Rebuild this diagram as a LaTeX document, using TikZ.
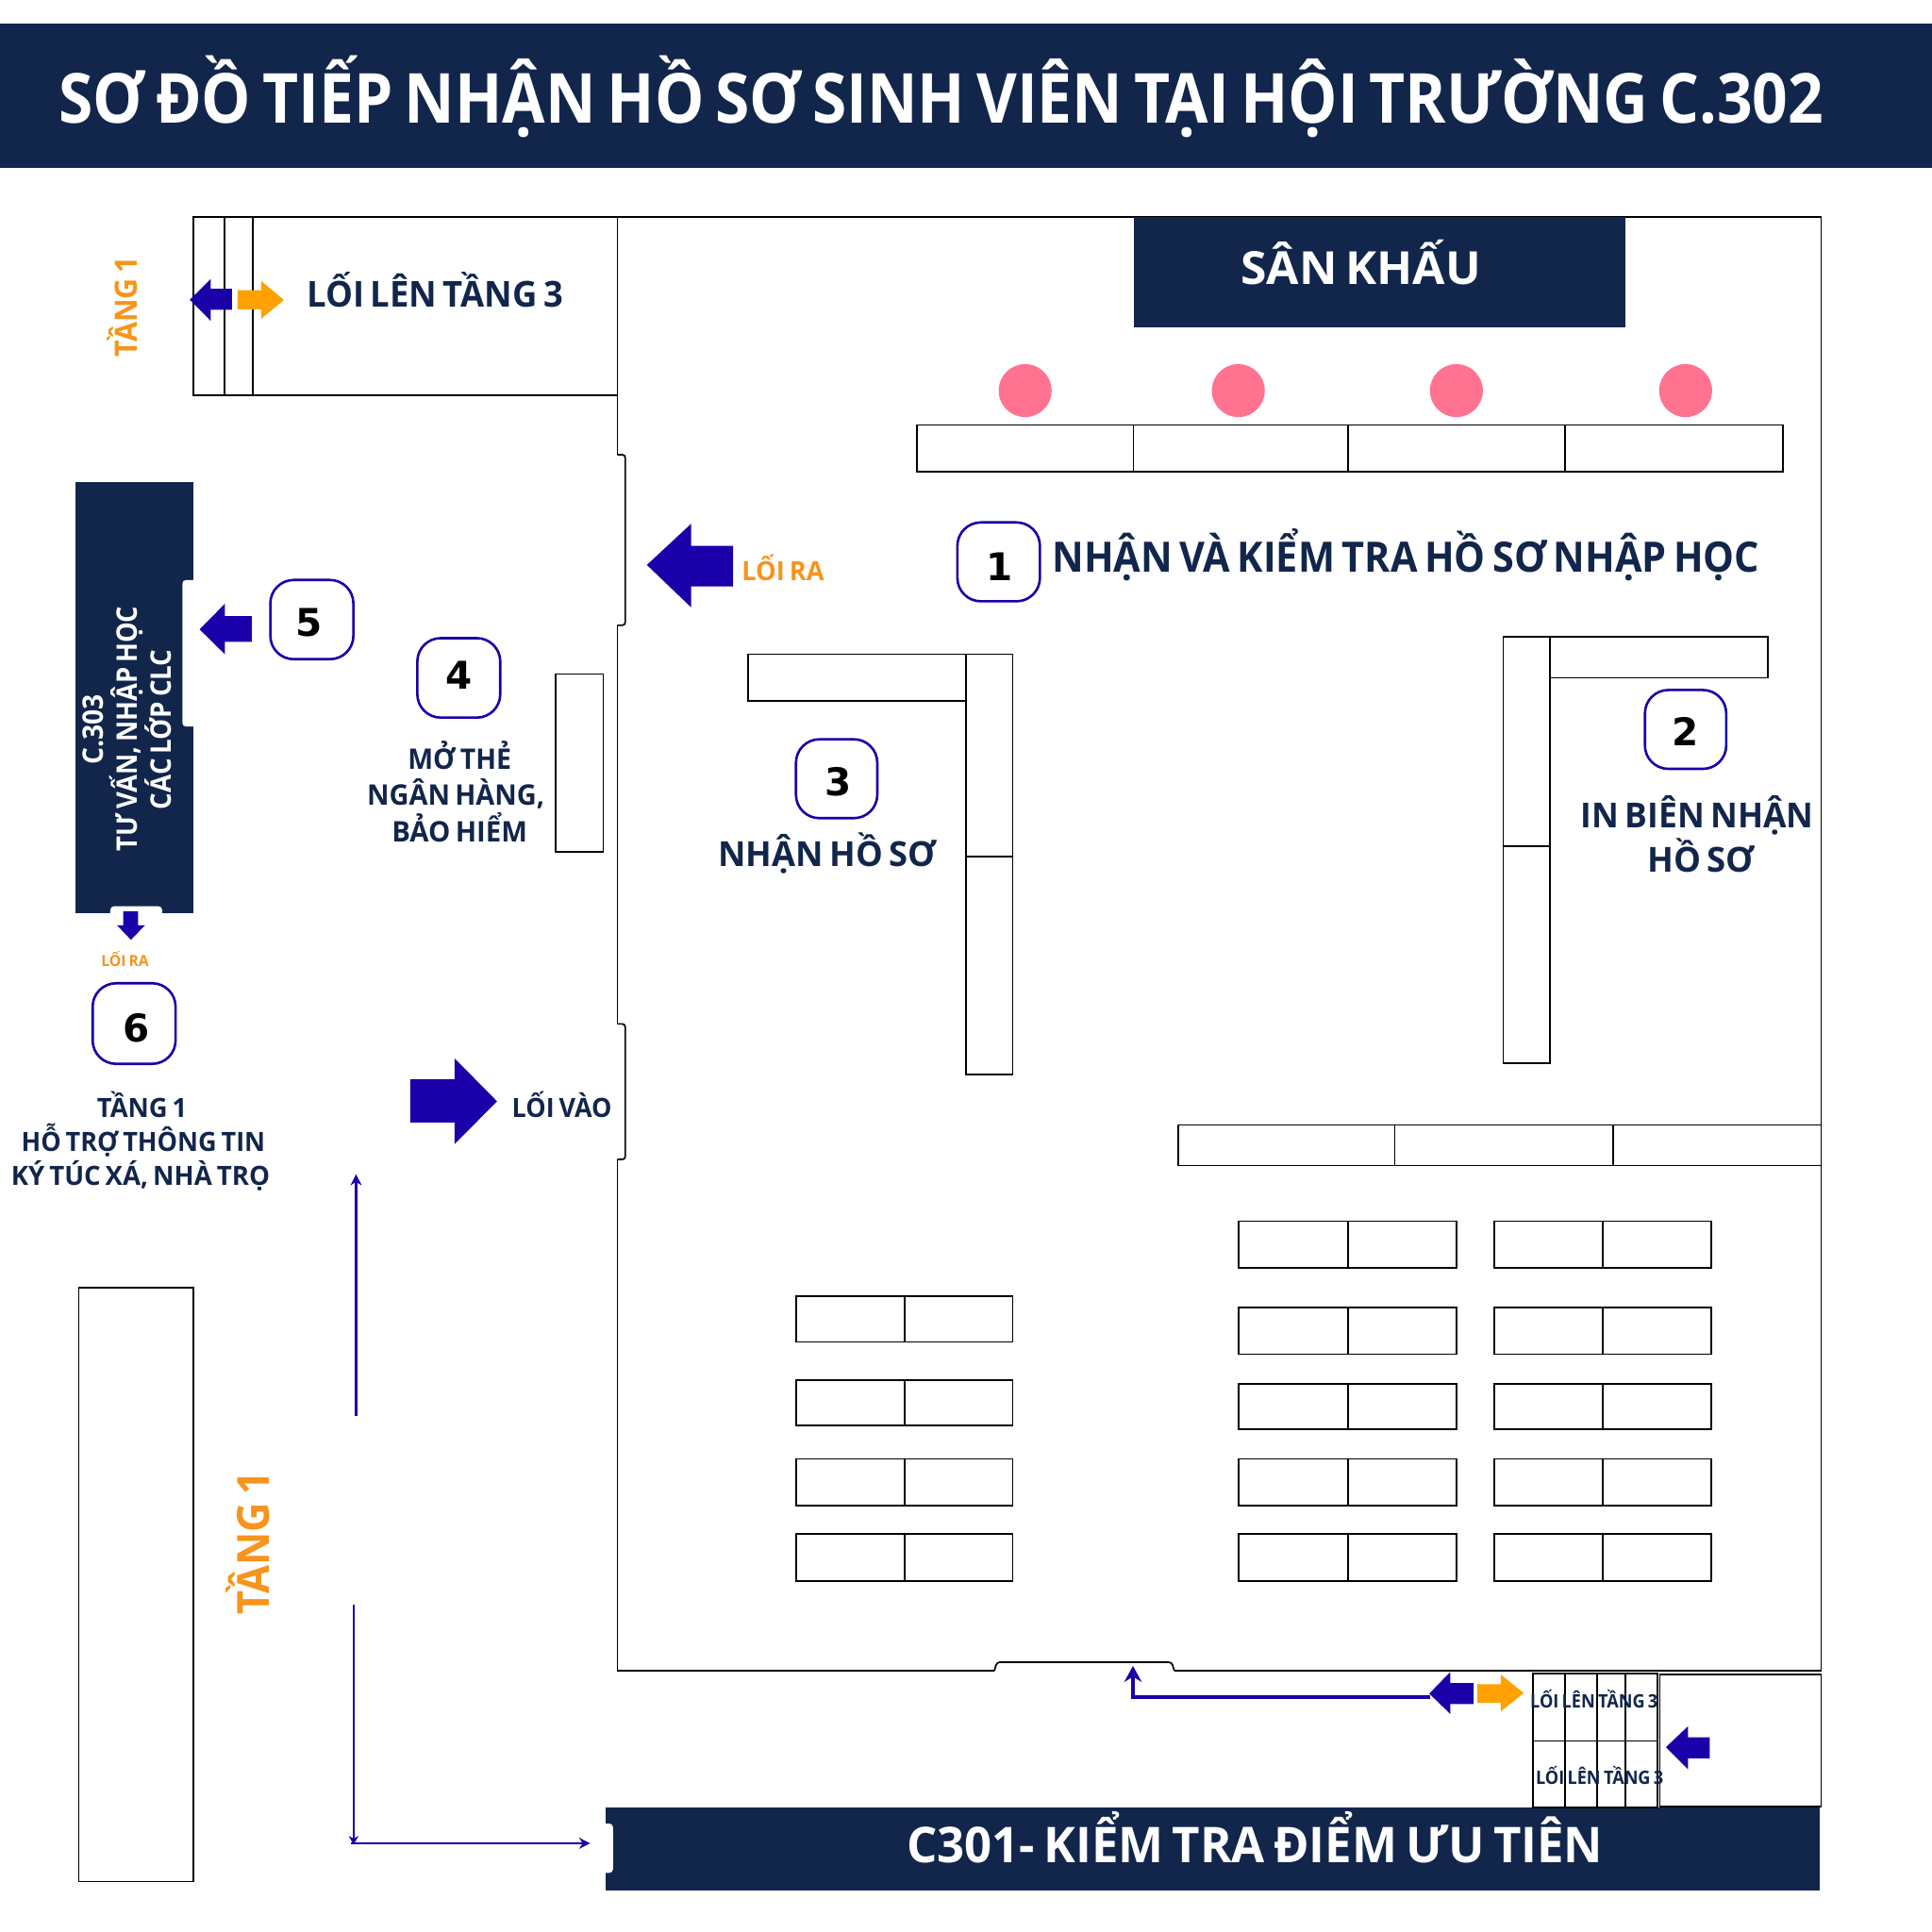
\documentclass[tikz,border=0pt]{standalone}
\usepackage{fontspec}
\usepackage{graphicx}
\setmainfont{Open Sans}[WordSpace=0.7]
\newfontfamily\numfont{DejaVu Sans}
\usetikzlibrary{arrows.meta}
\definecolor{navy}{HTML}{12264C}
\definecolor{flowblue}{HTML}{1A00A8}
\definecolor{amber}{HTML}{FFA100}
\definecolor{labelorange}{HTML}{F7941D}
\definecolor{seat}{HTML}{FF7390}
\newcommand\fw[3]{{\fontsize{#2pt}{#2pt}\selectfont\bfseries\resizebox{#1pt}{\height}{#3}}}
\tikzset{
  wall/.style={draw=black,line width=1.3pt,line join=miter},
  door/.style={draw=black,line width=1.3pt,rounded corners=2.5pt},
  desk/.style={draw=black,line width=1.3pt,fill=white},
  solidnavy/.style={fill=navy},
  bluearrow/.style={fill=flowblue},
  amberarrow/.style={fill=amber},
  badge/.style={draw=flowblue,line width=2pt,rounded corners=19pt,fill=white},
  num/.style={anchor=base,inner sep=0pt,text=black,font=\numfont\bfseries\fontsize{31pt}{31pt}\selectfont},
  txt/.style={anchor=base,inner sep=0pt,text=navy},
  wtxt/.style={anchor=base,inner sep=0pt,text=white},
  otxt/.style={anchor=base,inner sep=0pt,text=labelorange},
  flow/.style={draw=flowblue,line width=1.7pt},
  thick flow/.style={draw=flowblue,line width=3pt},
  notch/.style={fill=white,rounded corners=3pt},
}
\begin{document}
\begin{tikzpicture}[x=1pt,y=-1pt]
\useasboundingbox (0,0) rectangle (1568,1568);
% header
\fill[solidnavy] (0,19) rectangle (1568,136);
\node[wtxt] (title) at (764,100) {\fw{1432}{56}{SƠ ĐỒ TIẾP NHẬN HỒ SƠ SINH VIÊN TẠI HỘI TRƯỜNG C.302}};
% left stair room
\draw[wall] (157,176) rectangle (501,321);
\draw[desk] (157,176) rectangle (182,321);
\draw[desk] (182,176) rectangle (205,321);
\node[txt] (up3) at (353,249) {\fw{208}{29}{LỐI LÊN TẦNG 3}};
\node[otxt,rotate=90] (t1a) at (111.5,249) {\fw{81}{25}{TẦNG 1}};
\fill[bluearrow] (154,243.3) -- (171,226.5) -- (171,234.3) -- (188.3,234.3) -- (188.3,251.5) -- (171,251.5) -- (171,260.4) -- cycle;
\fill[amberarrow] (230.4,243.4) -- (212,228) -- (212,235.5) -- (192.8,235.5) -- (192.8,251) -- (212,251) -- (212,258.7) -- cycle;
% main hall walls
\draw[wall] (501,369) -- (501,176) -- (1478,176) -- (1478,1356) -- (953,1356);
\draw[door] (953,1356) -- (951,1349) -- (809,1349) -- (807,1356);
\draw[wall] (807,1356) -- (501,1356) -- (501,941);
\draw[door] (501,941) -- (507.5,941) -- (507.5,831) -- (501,831);
\draw[wall] (501,831) -- (501,507.5);
\draw[door] (501,507.5) -- (507.5,507.5) -- (507.5,369) -- (501,369);
% stage
\fill[solidnavy] (920,176) rectangle (1319,265.5);
\node[wtxt] (stage) at (1104.5,230.5) {\fw{195}{37}{SÂN KHẤU}};
\foreach \n/\cx in {a/832,b/1005,c/1182,d/1368}{
  \fill[seat] (\cx,317) circle (21.5pt);
}
% desks row 1
\draw[desk] (744,345) rectangle (920,383);
\draw[desk] (920,345) rectangle (1094,383);
\draw[desk] (1094,345) rectangle (1270,383);
\draw[desk] (1270,345) rectangle (1447,383);
% step 1
\draw[badge] (777,424) rectangle (844,488);
\node[num] (n1) at (811,471) {1};
\node[txt] (t1) at (1141,464.5) {\fw{574}{34}{NHẬN VÀ KIỂM TRA HỒ SƠ NHẬP HỌC}};
% exit
\fill[bluearrow] (525,458.5) -- (561,425) -- (561,443) -- (595,443) -- (595,476) -- (561,476) -- (561,493) -- cycle;
\node[otxt] (exit1) at (635.5,471) {\fw{67}{21.5}{LỐI RA}};
% step 3
\draw[desk] (607,531) rectangle (784,569);
\draw[desk] (784,531) rectangle (822,695);
\draw[desk] (784,695) rectangle (822,872);
\draw[badge] (646,600) rectangle (712,664);
\node[num] (n3) at (680,646) {3};
\node[txt] (t3) at (671.5,703) {\fw{177}{28}{NHẬN HỒ SƠ}};
% step 2
\draw[desk] (1220,517) rectangle (1258,687);
\draw[desk] (1220,687) rectangle (1258,863);
\draw[desk] (1258,517) rectangle (1435,550);
\draw[badge] (1335,560) rectangle (1401,624);
\node[num] (n2) at (1368,605) {2};
\node[txt] (t2a) at (1377.5,672) {\fw{189}{28}{IN BIÊN NHẬN}};
\node[txt] (t2b) at (1380.5,708) {\fw{87}{28}{HỒ SƠ}};
% desks row 2
\draw[desk] (956,913) rectangle (1132,946);
\draw[desk] (1132,913) rectangle (1309,946);
\draw[desk] (1309,913) rectangle (1478,946);
% tables
\foreach \ya/\yb in {991/1029,1061/1099,1123/1160,1184/1222,1245/1283}{
  \draw[desk] (1005,\ya) rectangle (1094,\yb);
  \draw[desk] (1094,\ya) rectangle (1182,\yb);
  \draw[desk] (1213,\ya) rectangle (1301,\yb);
  \draw[desk] (1301,\ya) rectangle (1389,\yb);
}
\foreach \ya/\yb in {1052/1089,1120/1157,1184/1222,1245/1283}{
  \draw[desk] (646,\ya) rectangle (734,\yb);
  \draw[desk] (734,\ya) rectangle (822,\yb);
}
% C.303
\fill[solidnavy] (61.5,391) rectangle (156.6,741);
\fill[notch] (148,470.7) rectangle (160,589.7);
\fill[notch] (89.5,735.5) rectangle (131.6,745);
\node[wtxt,rotate=90] (c3a) at (84,592) {\fw{57}{23}{C.303}};
\node[wtxt,rotate=90] (c3b) at (111.5,591.5) {\fw{199}{23}{TƯ VẤN, NHẬP HỌC}};
\node[wtxt,rotate=90] (c3c) at (139,592) {\fw{130}{23}{CÁC LỚP CLC}};
% step 5
\fill[bluearrow] (162,510.8) -- (182.5,490) -- (182.5,500) -- (204.4,500) -- (204.4,521) -- (182.5,521) -- (182.5,531) -- cycle;
\draw[badge] (219.4,470.7) rectangle (286.8,535);
\node[num] (n5) at (250.5,516.5) {5};
% step 4
\draw[badge] (338.7,517.9) rectangle (406,582.4);
\node[num] (n4) at (372.6,559) {4};
\node[txt] (t4a) at (373,624) {\fw{84}{23}{MỞ THẺ}};
\node[txt] (t4b) at (370,653.5) {\fw{144}{23}{NGÂN HÀNG,}};
\node[txt] (t4c) at (373,683) {\fw{110}{23}{BẢO HIỂM}};
\draw[desk] (451,547) rectangle (489.5,691.5);
% step 6
\fill[bluearrow] (106.3,762.7) -- (95,751) -- (100,751) -- (100,739.7) -- (112,739.7) -- (112,751) -- (117.6,751) -- cycle;
\node[otxt] (exit2) at (101.5,784) {\fw{38.5}{12.5}{LỐI RA}};
\draw[badge] (75.2,798) rectangle (142.5,863.4);
\node[num] (n6) at (110.4,845.5) {6};
\node[txt] (t6a) at (115.3,907) {\fw{73}{21.5}{TẦNG 1}};
\node[txt] (t6b) at (116.3,934.5) {\fw{198}{21.5}{HỖ TRỢ THÔNG TIN}};
\node[txt] (t6c) at (114,962) {\fw{210}{21.5}{KÝ TÚC XÁ, NHÀ TRỌ}};
% entrance
\fill[bluearrow] (403.4,893.8) -- (369,859) -- (369,876) -- (333,876) -- (333,911) -- (369,911) -- (369,928.5) -- cycle;
\node[txt] (enter) at (456,907) {\fw{81}{21.5}{LỐI VÀO}};
% corridor
\draw[desk] (64,1045) rectangle (157,1527);
\node[otxt,rotate=90] (t1b) at (218.5,1252.5) {\fw{116}{36}{TẦNG 1}};
\coordinate (f1a) at (289,1149);
\coordinate (f1b) at (289,953);
\coordinate (f2a) at (287,1302);
\coordinate (f2b) at (287,1497);
\coordinate (f3a) at (285,1496);
\coordinate (f3b) at (479,1496);
\draw[flow,-{Stealth[length=9pt,width=9pt]}] (f1a) -- (f1b);
\draw[flow,-{Stealth[length=7pt,width=8pt]}] (f2a) -- (f2b);
\draw[flow,-{Stealth[length=9pt,width=9pt]}] (f3a) -- (f3b);
% C301
\fill[solidnavy] (491.5,1467) rectangle (1477,1534);
\fill[notch] (488,1480) rectangle (497.5,1520);
\node[wtxt] (c301) at (1018.5,1512) {\fw{565}{40}{C301- KIỂM TRA ĐIỂM ƯU TIÊN}};
% bottom stairs
\draw[wall] (1347,1359) rectangle (1478,1466);
\foreach \xa/\xb in {1244/1270,1270/1296,1296/1319,1319/1345}{
  \draw[wall] (\xa,1358) rectangle (\xb,1413);
  \draw[wall] (\xa,1413) rectangle (\xb,1467);
}
\node[txt] (s1) at (1293.7,1386) {\fw{103.5}{15}{LỐI LÊN TẦNG 3}};
\node[txt] (s2) at (1298.2,1448) {\fw{103.5}{15}{LỐI LÊN TẦNG 3}};
\fill[bluearrow] (1160,1374.5) -- (1177,1357) -- (1177,1366) -- (1196,1366) -- (1196,1383) -- (1177,1383) -- (1177,1391) -- cycle;
\fill[amberarrow] (1236.6,1374) -- (1218,1359) -- (1218,1367) -- (1199,1367) -- (1199,1382) -- (1218,1382) -- (1218,1389) -- cycle;
\fill[bluearrow] (1352,1418) -- (1370,1401) -- (1370,1410) -- (1387.5,1410) -- (1387.5,1427) -- (1370,1427) -- (1370,1436) -- cycle;
\coordinate (f4a) at (1161,1377);
\coordinate (f4b) at (919.5,1377);
\coordinate (f4c) at (919.5,1352);
\draw[thick flow,-{Stealth[length=13pt,width=14pt]}] (f4a) -- (f4b) -- (f4c);
\end{tikzpicture}
\end{document}
